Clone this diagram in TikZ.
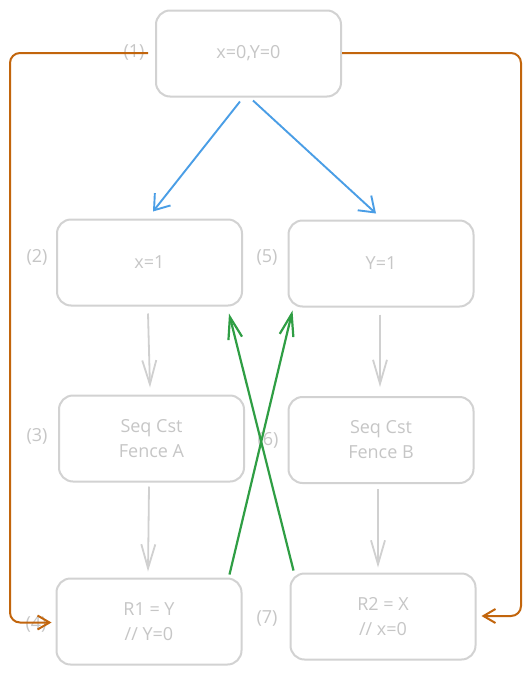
\documentclass[tikz,border=0pt]{standalone}
\usepackage{fontspec}
\setmainfont{Open Sans}
\usetikzlibrary{arrows.meta,calc}
\definecolor{boxgray}{HTML}{D2D2D2}
\definecolor{txtgray}{HTML}{C6C6C6}
\definecolor{arrgray}{HTML}{D0D0D0}
\definecolor{myblue}{HTML}{4A9EE6}
\definecolor{mygreen}{HTML}{2F9E44}
\definecolor{myorange}{HTML}{C2650C}
\begin{document}
\begin{tikzpicture}[x=1pt,y=-1pt,
  box/.style={draw=boxgray, line width=2pt, rounded corners=14pt,
    minimum width=185pt, minimum height=86pt, inner sep=0pt,
    text=txtgray, align=center, font=\fontsize{18}{25}\selectfont},
  lbl/.style={text=txtgray, inner sep=0pt, font=\fontsize{18}{20}\selectfont},
  bluearr/.style={draw=myblue, line width=1.9pt, -{Straight Barb[length=14pt,width=20pt,line width=1.9pt]}},
  grayarr/.style={draw=arrgray, line width=1.8pt, -{Straight Barb[length=24pt,width=14pt,line width=1.8pt]}},
  greenarr/.style={draw=mygreen, line width=2.2pt, -{Straight Barb[length=22pt,width=14pt,line width=2.2pt]}},
  orarr/.style={draw=myorange, line width=2pt, rounded corners=10pt, -{Straight Barb[length=12pt,width=14pt,line width=2pt]}}
]
\useasboundingbox (0,0) rectangle (532,675);
\fill[white] (0,0) rectangle (532,675);

\node[box] (b1) at (248.5,53.5) {x=0,Y=0};
\node[box] (b2) at (149.5,262.5) {x=1};
\node[box] (b5) at (381,263.5) {Y=1};
\node[box] (b3) at (151.5,438.5) {Seq Cst\\Fence A};
\node[box] (b6) at (381,440) {Seq Cst\\Fence B};
\node[box] (b4) at (149,621.5) {R1 = Y\\// Y=0};
\node[box] (b7) at (383,616.5) {R2 = X\\// x=0};

\node[lbl] (l1) at (134,52) {(1)};
\node[lbl] (l2) at (37,257) {(2)};
\node[lbl] (l5) at (267,257) {(5)};
\node[lbl] (l3) at (37,436) {(3)};
\node[lbl] (l6) at (268,440) {(6)};
\node[lbl] (l4) at (36,624) {(4)};
\node[lbl] (l7) at (267,618) {(7)};

% blue arrows
\draw[bluearr] ($(b1.south)+(-8.5,4)$) -- ($(b2.north)+(3.5,-7)$);
\draw[bluearr] ($(b1.south)+(4.5,3)$) -- ($(b5.north)+(-5,-6)$);

% gray arrows
\draw[grayarr] ($(b2.south)+(-1.5,7)$) -- ($(b3.north)+(-1.5,-7)$);
\draw[grayarr] ($(b3.south)+(-2.5,4)$) -- ($(b4.north)+(-1,-6)$);
\draw[grayarr] ($(b5.south)+(-1,7)$) -- ($(b6.north)+(-1,-9)$);
\draw[grayarr] ($(b6.south)+(-3,5)$) -- ($(b7.north)+(-5,-5)$);

% green arrows
\draw[greenarr] ($(b4.north east)+(-13,-3)$) -- ($(b5.south west)+(5,3)$);
\draw[greenarr] ($(b7.north west)+(4,-2)$) -- ($(b2.south east)+(-14,7)$);

% orange arrows
\coordinate (lc) at (10,0);
\coordinate (rc) at (521,0);
\draw[orarr] ($(b1.west)+(-7,-0.5)$) -- (lc |- {$(b1.west)+(0,-0.5)$}) -- (lc |- {$(b4.west)+(0,1)$}) -- ($(b4.west)+(-4,1)$);
\draw[orarr] ($(b1.east)+(0,-0.5)$) -- (rc |- {$(b1.east)+(0,-0.5)$}) -- (rc |- {$(b7.east)+(0,-0.5)$}) -- ($(b7.east)+(5,-0.5)$);
\end{tikzpicture}
\end{document}
